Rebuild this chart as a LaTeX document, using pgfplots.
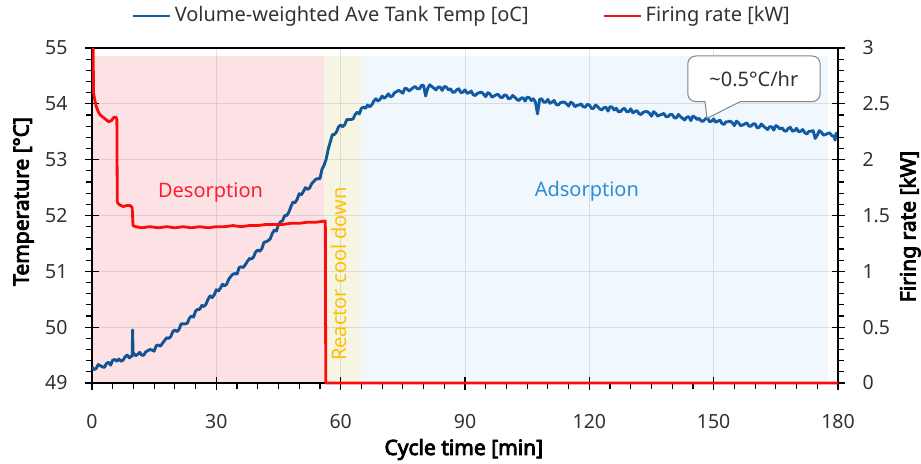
\documentclass[border=0pt]{standalone}
\usepackage{fontspec}
\setmainfont{Noto Sans}[AutoFakeBold=4]
\usepackage{pgfplots}
\pgfplotsset{compat=1.18}
\definecolor{blueline}{RGB}{20,94,165}
\definecolor{redline}{RGB}{250,12,12}
\definecolor{pinkshade}{RGB}{253,226,229}
\definecolor{yellowshade}{RGB}{246,245,228}
\definecolor{blueshade}{RGB}{240,247,253}
\definecolor{destext}{RGB}{255,30,50}
\definecolor{adstext}{RGB}{50,140,210}
\definecolor{cooltext}{RGB}{255,192,0}
\definecolor{ticktext}{RGB}{50,50,50}
\definecolor{calloutline}{RGB}{125,135,145}
\begin{document}
\begin{tikzpicture}
\path[use as bounding box] (-46pt,-40pt) rectangle (414.5pt,191.5pt);
\pgfplotsset{
  common/.style={
    scale only axis, width=373pt, height=167.5pt,
    at={(0pt,0pt)}, anchor=south west,
    xmin=0, xmax=180,
    tick align=center,
    major tick length=6.5pt, minor tick length=3pt,
    every tick/.style={black, line width=0.6pt},
    /pgf/number format/assume math mode=true,
    ticklabel style={font=\fontsize{9.75}{11}\selectfont, text=ticktext},
  }
}
\begin{axis}[common,
  ymin=49, ymax=55,
  xtick={0,30,...,180}, minor x tick num=5,
  ytick={49,50,...,55}, minor y tick num=4,
  xtick pos=bottom, ytick pos=left,
  minor x tick style={yshift=-1.5pt},
  minor y tick style={xshift=-1.5pt},
  grid=major, major grid style={draw=black!10, line width=0.4pt},
  axis line style={black, line width=0.7pt},
  xticklabel style={yshift=-9pt},
  yticklabel style={xshift=-5.5pt},
]
\addplot[blueline, line width=1.45pt, line join=round] coordinates {
(0,49.29) (0.5,49.24) (1,49.26) (1.5,49.33) (2,49.31) (2.5,49.29) (3,49.28) (3.5,49.35) (4,49.37) (4.5,49.32)
(5,49.41) (5.5,49.42) (6,49.39) (6.5,49.43) (7,49.39) (7.5,49.41) (8,49.47) (8.5,49.50) (9,49.45) (9.5,49.48)
(9.7,49.48) (9.8,49.95) (9.9,49.50)
(10,49.54) (10.5,49.49) (11,49.51) (11.5,49.55) (12,49.50) (12.5,49.50) (13,49.56) (13.5,49.58) (14,49.60) (14.5,49.59)
(15,49.57) (15.5,49.67) (16,49.68) (16.5,49.66) (17,49.71) (17.5,49.76) (18,49.81) (18.5,49.80) (19,49.83) (19.5,49.92)
(20,49.95) (20.5,49.92) (21,49.96) (21.5,50.06) (22,50.06) (22.5,50.06) (23,50.07) (23.5,50.16) (24,50.20) (24.5,50.18)
(25,50.29) (25.5,50.32) (26,50.32) (26.5,50.39) (27,50.37) (27.5,50.41) (28,50.50) (28.5,50.56) (29,50.53) (29.5,50.58)
(30,50.67) (30.5,50.65) (31,50.70) (31.5,50.77) (32,50.74) (32.5,50.77) (33,50.86) (33.5,50.91) (34,50.95) (34.5,50.96)
(35,50.95) (35.5,51.07) (36,51.08) (36.5,51.07) (37,51.12) (37.5,51.18) (38,51.23) (38.5,51.22) (39,51.26) (39.5,51.35)
(40,51.38) (40.5,51.36) (41,51.41) (41.5,51.52) (42,51.53) (42.5,51.55) (43,51.58) (43.5,51.68) (44,51.74) (44.5,51.72)
(45,51.84) (45.5,51.89) (46,51.91) (46.5,52.00) (47,52.00) (47.5,52.06) (48,52.16) (48.5,52.24) (49,52.23) (49.5,52.29)
(50,52.39) (50.5,52.37) (51,52.43) (51.5,52.50) (52,52.47) (52.5,52.49) (53,52.57) (53.5,52.61) (54,52.65) (54.5,52.66)
(55,52.66) (55.5,52.83) (56,52.90) (56.5,53.01) (57,53.19) (57.5,53.32) (58,53.45) (58.5,53.45) (59,53.50) (59.5,53.59)
(60,53.62) (60.5,53.59) (61,53.63) (61.5,53.72) (62,53.72) (62.5,53.72) (63,53.73) (63.5,53.81) (64,53.85) (64.5,53.82)
(65,53.92) (65.5,53.94) (66,53.92) (66.5,53.98) (67,53.95) (67.5,53.98) (68,54.05) (68.5,54.09) (69,54.05) (69.5,54.08)
(70,54.14) (70.5,54.10) (71,54.13) (71.5,54.18) (72,54.13) (72.5,54.14) (73,54.20) (73.5,54.22) (74,54.24) (74.5,54.22)
(75,54.19) (75.5,54.28) (76,54.27) (76.5,54.23) (77,54.26) (77.5,54.29) (78,54.31) (78.5,54.27) (79,54.27) (79.5,54.33)
(80,54.33) (80.5,54.14) (81,54.28) (81.5,54.34) (82,54.31) (82.5,54.28) (83,54.25) (83.5,54.30) (84,54.30) (84.5,54.24)
(85,54.31) (85.5,54.30) (86,54.25) (86.5,54.27) (87,54.21) (87.5,54.21) (88,54.25) (88.5,54.27) (89,54.20) (89.5,54.21)
(90,54.25) (90.5,54.19) (91,54.20) (91.5,54.23) (92,54.16) (92.5,54.15) (93,54.19) (93.5,54.20) (94,54.21) (94.5,54.17)
(95,54.13) (95.5,54.20) (96,54.18) (96.5,54.12) (97,54.14) (97.5,54.16) (98,54.17) (98.5,54.12) (99,54.11) (99.5,54.16)
(100,54.15) (100.5,54.09) (101,54.10) (101.5,54.15) (102,54.12) (102.5,54.08) (103,54.06) (103.5,54.10) (104,54.11) (104.5,54.05)
(105,54.12) (105.5,54.11) (106,54.06) (106.5,54.09) (107,54.03) (107.5,53.82) (108,54.08) (108.5,54.09) (109,54.03) (109.5,54.03)
(110,54.08) (110.5,54.01) (111,54.03) (111.5,54.06) (112,53.99) (112.5,53.98) (113,54.02) (113.5,54.03) (114,54.03) (114.5,54.00)
(115,53.96) (115.5,54.03) (116,54.01) (116.5,53.95) (117,53.97) (117.5,53.98) (118,54.00) (118.5,53.95) (119,53.94) (119.5,53.99)
(120,53.98) (120.5,53.92) (121,53.92) (121.5,53.98) (122,53.95) (122.5,53.91) (123,53.89) (123.5,53.93) (124,53.94) (124.5,53.87)
(125,53.95) (125.5,53.94) (126,53.89) (126.5,53.92) (127,53.86) (127.5,53.86) (128,53.90) (128.5,53.92) (129,53.86) (129.5,53.86)
(130,53.91) (130.5,53.84) (131,53.86) (131.5,53.88) (132,53.82) (132.5,53.81) (133,53.85) (133.5,53.86) (134,53.86) (134.5,53.83)
(135,53.78) (135.5,53.86) (136,53.83) (136.5,53.78) (137,53.80) (137.5,53.81) (138,53.83) (138.5,53.77) (139,53.77) (139.5,53.81)
(140,53.81) (140.5,53.75) (141,53.75) (141.5,53.81) (142,53.77) (142.5,53.74) (143,53.71) (143.5,53.76) (144,53.77) (144.5,53.70)
(145,53.78) (145.5,53.76) (146,53.72) (146.5,53.74) (147,53.69) (147.5,53.69) (148,53.73) (148.5,53.75) (149,53.68) (149.5,53.69)
(150,53.73) (150.5,53.67) (151,53.69) (151.5,53.71) (152,53.65) (152.5,53.63) (153,53.68) (153.5,53.68) (154,53.69) (154.5,53.66)
(155,53.61) (155.5,53.69) (156,53.66) (156.5,53.61) (157,53.62) (157.5,53.64) (158,53.66) (158.5,53.60) (159,53.60) (159.5,53.64)
(160,53.64) (160.5,53.57) (161,53.58) (161.5,53.64) (162,53.60) (162.5,53.57) (163,53.54) (163.5,53.59) (164,53.59) (164.5,53.53)
(165,53.61) (165.5,53.59) (166,53.55) (166.5,53.57) (167,53.52) (167.5,53.51) (168,53.56) (168.5,53.58) (169,53.51) (169.5,53.52)
(170,53.56) (170.5,53.50) (171,53.51) (171.5,53.54) (172,53.48) (172.5,53.46) (173,53.51) (173.5,53.51) (174,53.52) (174.5,53.38)
(175,53.44) (175.5,53.52) (176,53.49) (176.5,53.44) (177,53.45) (177.5,53.47) (178,53.48) (178.5,53.43) (179,53.42) (179.3,53.35)
(179.5,53.47) (180,53.47)
};
\fill[pinkshade, blend mode=multiply] (axis cs:0,49) rectangle (axis cs:56,54.85);
\fill[yellowshade, blend mode=multiply] (axis cs:56,49) rectangle (axis cs:65,54.85);
\fill[blueshade, blend mode=multiply] (axis cs:65,49) rectangle (axis cs:177.5,54.85);
\node[text=destext, font=\fontsize{10}{12}\selectfont] at (axis cs:28.6,52.42) {Desorption};
\node[text=adstext, font=\fontsize{10}{12}\selectfont] at (axis cs:119.4,52.43) {Adsorption};
\node[text=cooltext, font=\fontsize{10}{12}\selectfont, rotate=90] at (axis cs:59.7,50.95) {Reactor cool down};
\draw[calloutline, fill=white, line width=0.5pt] (axis cs:148.4,53.74) -- (axis cs:156.4,54.04) [rounded corners=4pt] -- (axis cs:175.7,54.04) -- (axis cs:175.7,54.857) -- (axis cs:143.75,54.857) -- (axis cs:143.75,54.04) [sharp corners] -- (axis cs:147.9,54.04) -- cycle;
\node[text=ticktext, font=\fontsize{10}{12}\selectfont] at (axis cs:159.7,54.45) {\textasciitilde 0.5°C/hr};
\end{axis}
\begin{axis}[common,
  ymin=0, ymax=3,
  axis x line=none,
  axis y line*=right,
  ytick={0,0.5,...,3}, minor y tick num=4,
  minor y tick style={xshift=1.5pt},
  axis line style={black, line width=0.7pt},
  yticklabel style={xshift=5.5pt},
  clip=false,
  legend columns=2,
  legend style={at={(0.497,1)}, anchor=south, yshift=7.5pt, draw=none, fill=none,
    font=\fontsize{10}{12}\selectfont, text=ticktext,
    /tikz/every even column/.append style={column sep=35pt}},
  legend image code/.code={\draw[#1, line width=1pt] (0pt,0pt) -- (18.5pt,0pt);},
]
\addlegendimage{blueline}
\addlegendentry{Volume-weighted Ave Tank Temp [oC]}
\addplot[redline, line width=1.4pt, line join=round] coordinates {
(0.3,3.0) (0.35,2.6) (0.6,2.55) (1,2.48) (1.5,2.43) (2,2.40) (3,2.37) (4,2.34) (4.7,2.35) (5.3,2.38) (5.8,2.38) (6.0,2.36)
(6.1,1.62) (6.5,1.60) (7.5,1.58) (8.5,1.59) (9.2,1.59) (9.7,1.57)
(9.9,1.41) (10.5,1.40) (12,1.39) (14,1.40) (16,1.39) (18,1.40) (20,1.39) (22,1.40) (24,1.39) (26,1.40) (28,1.39)
(30,1.40) (32,1.40) (34,1.41) (36,1.40) (38,1.41) (40,1.41) (42,1.42) (44,1.42) (46,1.42) (48,1.43) (50,1.43)
(52,1.44) (54,1.44) (56.3,1.45) (56.4,0) (180,0)
};
\addlegendentry{Firing rate [kW]}
\end{axis}
\node[rotate=90, font=\bfseries\fontsize{10.5}{12}\selectfont] at (-34.25pt,90.75pt) {Temperature [°C]};
\node[rotate=90, font=\bfseries\fontsize{10.5}{12}\selectfont] at (409pt,78.25pt) {Firing rate [kW]};
\node[font=\bfseries\fontsize{10.5}{12}\selectfont] at (185.9pt,-33.25pt) {Cycle time [min]};
\end{tikzpicture}
\end{document}
